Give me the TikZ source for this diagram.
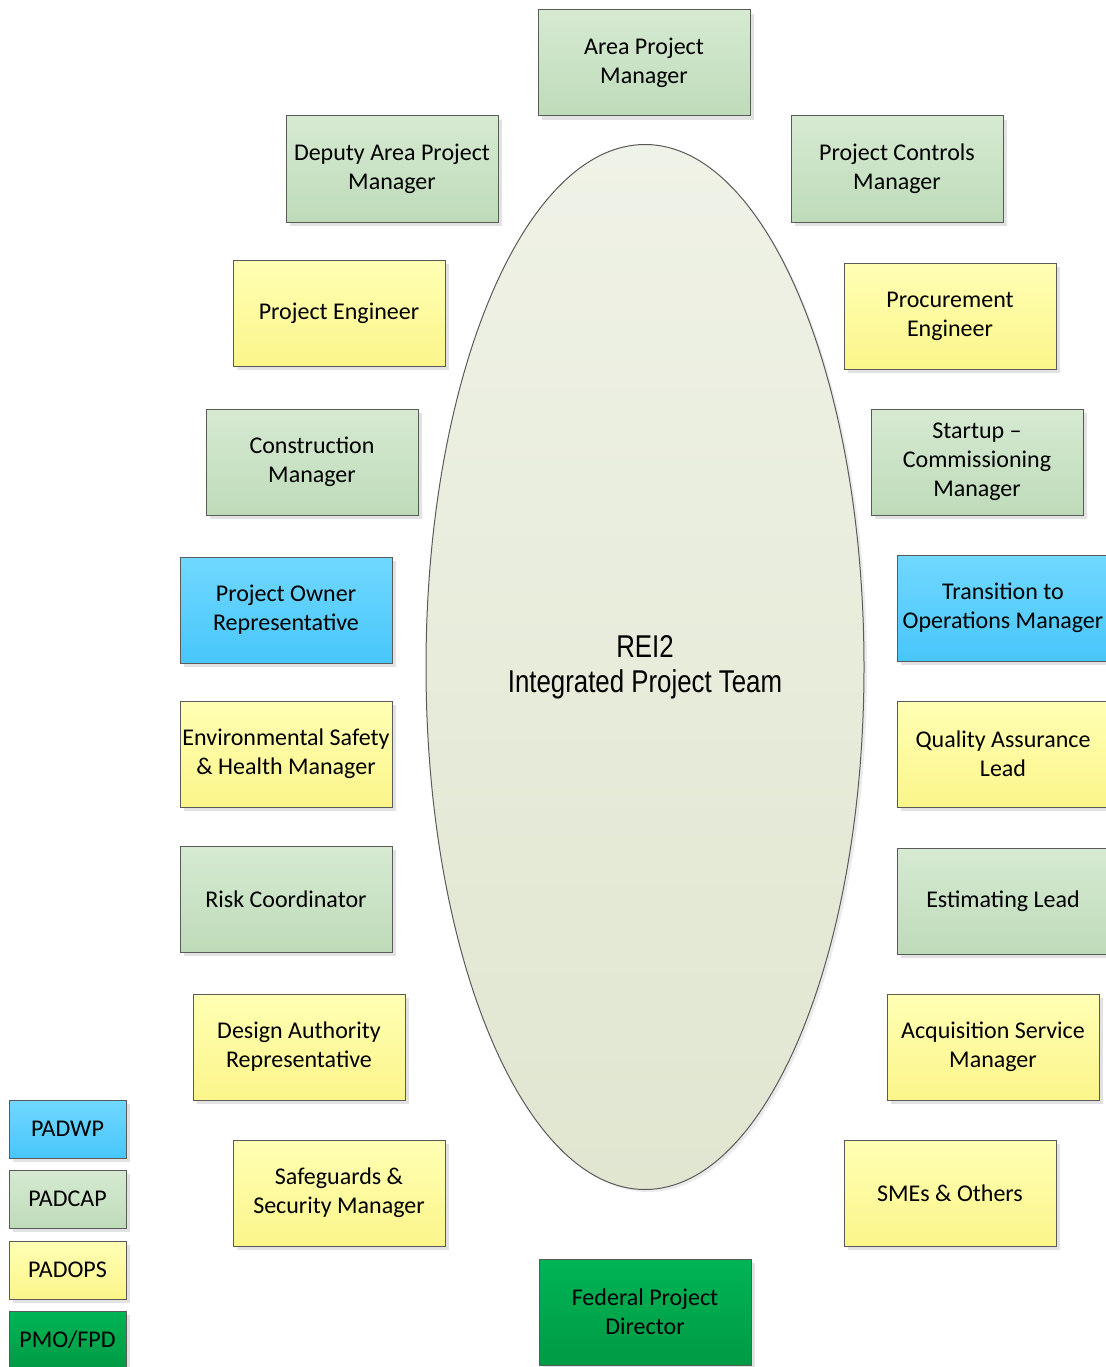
\documentclass[tikz,border=0pt]{standalone}
\usepackage{fontspec}
\setmainfont{Carlito}
\newfontfamily\titlefont[FakeStretch=0.82]{Liberation Sans}
\usetikzlibrary{shadows,shapes.geometric}

\definecolor{edge}{HTML}{5A5A5A}
\definecolor{grnT}{HTML}{D6EAD2}
\definecolor{grnB}{HTML}{BEDBB9}
\definecolor{ylwT}{HTML}{FFFFB4}
\definecolor{ylwB}{HTML}{FBF58A}
\definecolor{bluT}{HTML}{70D8FF}
\definecolor{bluB}{HTML}{48C6FA}
\definecolor{dgrT}{HTML}{00B555}
\definecolor{dgrB}{HTML}{009A45}
\definecolor{ovlT}{HTML}{EFF2E6}
\definecolor{ovlB}{HTML}{E0E6D0}
\definecolor{shade}{HTML}{E2E2E2}

\tikzset{
  x=1pt, y=-1pt,
  role/.style={draw=edge, line width=1pt, minimum width=212pt, minimum height=106pt,
    inner sep=0pt, align=center, font=\fontsize{24}{29}\selectfont,
    copy shadow={shadow xshift=4pt, shadow yshift=-4pt, draw=none, fill=shade}},
  key/.style={role, minimum width=117pt, minimum height=58pt},
  green/.style={top color=grnT, bottom color=grnB},
  yellow/.style={top color=ylwT, bottom color=ylwB},
  blue/.style={top color=bluT, bottom color=bluB},
  dgreen/.style={top color=dgrT, bottom color=dgrB},
}

\begin{document}
\begin{tikzpicture}
\useasboundingbox (0,0) rectangle (1105,1367);

% central team oval with its soft shadow
\fill[black!8] (648,670) ellipse [x radius=219, y radius=522];
\node (team) [draw=edge, line width=1pt, ellipse, minimum width=438pt, minimum height=1045pt,
  top color=ovlT, bottom color=ovlB, inner sep=0pt, align=center,
  font=\titlefont\fontsize{31.5}{35}\selectfont] at (645,667) {REI2\\Integrated Project Team};

% team roles
\node (apm)  [role, green]  at (644,63)   {Area Project\\Manager};
\node (dapm) [role, green]  at (392,169)  {Deputy Area Project\\Manager};
\node (pcm)  [role, green]  at (897,169)  {Project Controls\\Manager};
\node (pe)   [role, yellow] at (339,313)  {Project Engineer};
\node (proc) [role, yellow] at (950,316)  {Procurement\\Engineer};
\node (cm)   [role, green]  at (312,462)  {Construction\\Manager};
\node (scm)  [role, green]  at (977,462)  {Startup --\\Commissioning\\Manager};
\node (por)  [role, blue]   at (286,610)  {Project Owner\\Representative};
\node (tom)  [role, blue]   at (1003,608) {Transition to\\Operations Manager};
\node (esh)  [role, yellow] at (286,754)  {Environmental Safety\\\& Health Manager};
\node (qal)  [role, yellow] at (1003,754) {Quality Assurance\\Lead};
\node (risk) [role, green]  at (286,899)  {Risk Coordinator};
\node (est)  [role, green]  at (1003,901) {Estimating Lead};
\node (dar)  [role, yellow] at (299,1047) {Design Authority\\Representative};
\node (asm)  [role, yellow] at (993,1047) {Acquisition Service\\Manager};
\node (ssm)  [role, yellow] at (339,1193) {Safeguards \&\\Security Manager};
\node (sme)  [role, yellow] at (950,1193) {SMEs \& Others};
\node (fpd)  [role, dgreen] at (645,1312) {Federal Project\\Director};

% colour key
\node (kwp)  [key, blue]   at (67.5,1129) {PADWP};
\node (kcap) [key, green]  at (67.5,1199) {PADCAP};
\node (kops) [key, yellow] at (67.5,1270) {PADOPS};
\node (kpmo) [key, dgreen] at (67.5,1340) {PMO/FPD};
\end{tikzpicture}
\end{document}
